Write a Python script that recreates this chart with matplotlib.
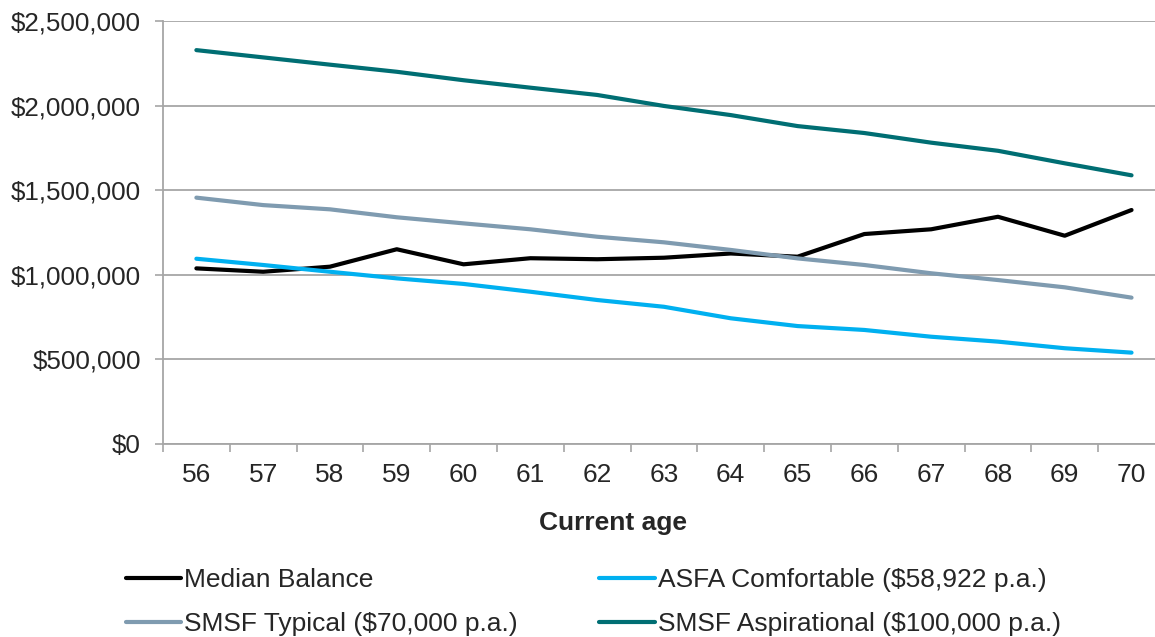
import numpy as np
import matplotlib
matplotlib.use("Agg")
import matplotlib.pyplot as plt
from matplotlib.ticker import FuncFormatter, MultipleLocator

plt.rcParams['font.family'] = ['Liberation Sans', 'DejaVu Sans']

# datos
edades = [56, 57, 58, 59, 60, 61, 62, 63, 64, 65, 66, 67, 68, 69, 70]
mediana = [1038000, 1018000, 1048000, 1151000, 1062000, 1098000, 1092000, 1101000,
           1126000, 1107000, 1241000, 1269000, 1343000, 1231000, 1383000]
asfa = [1095000, 1058000, 1018000, 979000, 946000, 900000, 851000, 811000,
        743000, 697000, 674000, 634000, 605000, 566000, 540000]
smsf_tipico = [1456000, 1412000, 1387000, 1340000, 1304000, 1269000, 1225000, 1192000,
               1147000, 1097000, 1058000, 1009000, 969000, 926000, 865000]
smsf_aspira = [2328000, 2285000, 2242000, 2200000, 2150000, 2106000, 2063000, 1998000,
               1944000, 1879000, 1838000, 1781000, 1733000, 1659000, 1588000]

etiquetas = ['Median Balance', 'ASFA Comfortable ($58,922 p.a.)',
             'SMSF Typical ($70,000 p.a.)', 'SMSF Aspirational ($100,000 p.a.)']
colores = ['#000000', '#00b0f0', '#7f9bb0', '#006e73']

fig = plt.figure(figsize=(11.55, 6.37), dpi=100)
ax = fig.add_axes([0.1411, 0.303, 0.8675, 0.664])

x = np.arange(len(edades))
lineas = []
for serie, etiqueta, color in zip([mediana, asfa, smsf_tipico, smsf_aspira], etiquetas, colores):
    l, = ax.plot(x, serie, color=color, lw=3, solid_capstyle='round', label=etiqueta)
    lineas.append(l)

ax.set_xlim(-0.5, len(edades) - 0.5)
ax.set_ylim(0, 2500000)

gris = '#a6a6a6'
ax.yaxis.set_major_locator(MultipleLocator(500000))
ax.yaxis.set_major_formatter(FuncFormatter(lambda v, p: f'${v:,.0f}'))
ax.grid(axis='y', color=gris, lw=1.3)
ax.set_axisbelow(True)

# ticks del eje x en los bordes, etiquetas en el centro
ax.set_xticks(np.arange(len(edades) + 1) - 0.5)
ax.set_xticklabels([])
ax.set_xticks(x, minor=True)
ax.set_xticklabels([str(e) for e in edades], minor=True)
ax.tick_params(axis='x', which='major', length=6, width=1.2, color=gris, direction='out')
ax.tick_params(axis='x', which='minor', length=0, pad=14, labelsize=19, labelcolor='#262626')
ax.tick_params(axis='y', length=6, width=1.2, color=gris, pad=10, labelsize=18.7, labelcolor='#262626')

for lado in ['top', 'right']:
    ax.spines[lado].set_visible(False)
for lado in ['left', 'bottom']:
    ax.spines[lado].set_color(gris)
    ax.spines[lado].set_linewidth(1.3)

fig.text(613 / 1155, 1 - 523 / 637, 'Current age', ha='center', va='center',
         fontsize=19, fontweight='bold', color='#262626')

orden = [lineas[0], lineas[2], lineas[1], lineas[3]]
leg = fig.legend(handles=orden, labels=[l.get_label() for l in orden], ncol=2,
                 loc='upper left', bbox_to_anchor=(126 / 1155, 1 - 568 / 637),
                 frameon=False, fontsize=19, handlelength=2.1, handletextpad=0.1,
                 columnspacing=3.1, labelspacing=0.76, borderpad=0, borderaxespad=0)
for t in leg.get_texts():
    t.set_color('#262626')

fig.savefig('out.png', dpi=100)
